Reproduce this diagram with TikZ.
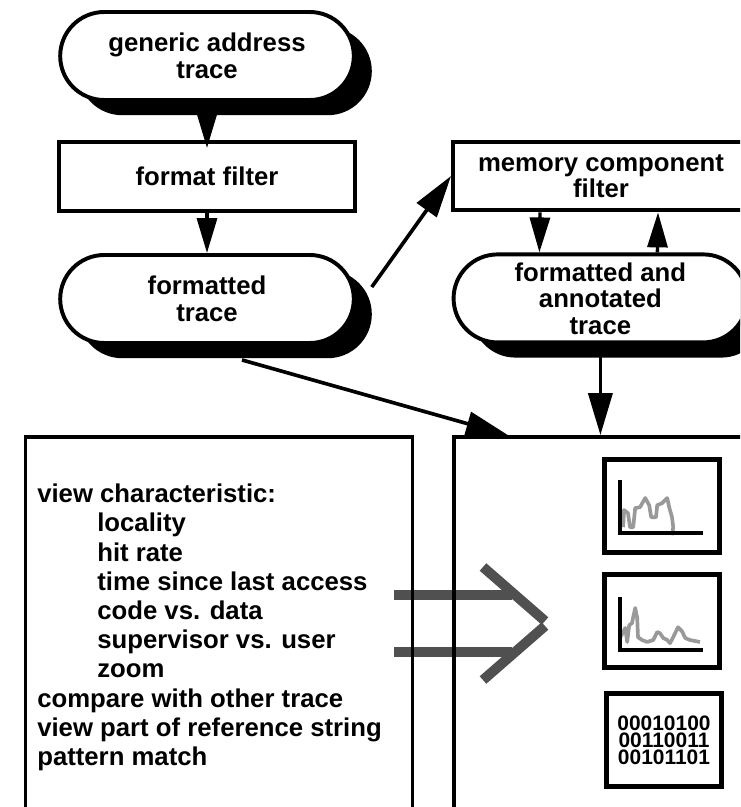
\documentclass[tikz,border=0pt]{standalone}
\usepackage{fontspec}
\setmainfont{Liberation Sans}
\usetikzlibrary{arrows.meta, shapes.misc, shadows, positioning}

\definecolor{ArrowGray}{RGB}{80,80,80}
\definecolor{PlotGray}{RGB}{153,153,153}

\tikzset{
  blockfont/.style={font=\fontsize{18.3}{18.8}\selectfont\bfseries},
  terminal/.style={rounded rectangle, draw, line width=2.8pt, fill=white,
    minimum width=7.575cm, minimum height=2.2cm, align=center, blockfont,
    drop shadow={opacity=1, fill=black, shadow xshift=0.45cm, shadow yshift=-0.38cm}},
  filterbox/.style={rectangle, draw, line width=2.8pt, fill=white,
    minimum width=7.4cm, minimum height=1.72cm, align=center, blockfont},
  panel/.style={rectangle, draw, line width=2.8pt,
    minimum width=9.675cm, minimum height=9.825cm},
  chartbox/.style={rectangle, draw, line width=3.4pt,
    minimum width=2.875cm, minimum height=2.325cm},
  flow/.style={line width=2.4pt, -{Triangle[length=0.875cm, width=0.5cm]}},
  longflow/.style={line width=2.6pt, -{Triangle[length=1.05cm, width=0.6cm]}},
  axes/.style={line width=2.5pt},
  plotline/.style={PlotGray, line width=2.6pt, line join=round},
  bigarrow/.style={ArrowGray, line width=7.1pt},
}

\begin{document}
\begin{tikzpicture}
  \useasboundingbox (0,0) rectangle (18.5,-20.175);
  \clip (0,0) rectangle (18.5,-20.175);
  \fill[white] (0,0) rectangle (18.5,-20.175);

  % trace pipeline
  \node[terminal] (gen) at (5.175,-1.4) {generic address\\trace};
  \node[filterbox] (fmt) at (5.175,-4.41) {format filter};
  \node[terminal] (ftrace) at (5.175,-7.475) {formatted\\trace};
  \node[filterbox] (memf) at (15.025,-4.4) {memory component\\filter};
  \node[terminal] (annot) at (15.01,-7.46) {formatted and\\annotated\\trace};

  % operations imply views
  \draw[bigarrow] (9.85,-14.875) -- (12.8,-14.875);
  \draw[bigarrow] (9.85,-16.3) -- (12.8,-16.3);
  \draw[bigarrow] (12.075,-14.175) -- (13.625,-15.525);
  \draw[bigarrow] (13.625,-15.65) -- (12.075,-17.0);

  \node[panel] (ops) at (5.475,-15.84) {};
  \node[panel, minimum width=8.65cm] (views) at (15.675,-15.84) {};

  \node[anchor=north west, align=left, inner sep=0pt,
        font=\fontsize{18.3}{20.8}\selectfont\bfseries] (oplist) at (0.925,-12.09)
    {view characteristic:\\
     \hspace*{1.5cm}locality\\
     \hspace*{1.5cm}hit rate\\
     \hspace*{1.5cm}time since last access\\
     \hspace*{1.5cm}code vs. data\\
     \hspace*{1.5cm}supervisor vs. user\\
     \hspace*{1.5cm}zoom\\
     compare with other trace\\
     view part of reference string\\
     pattern match};

  % connectors
  \draw[flow] (gen.south) -- ([yshift=-0.2cm]fmt.north);
  \draw[flow] (fmt.south) -- (ftrace.north);
  \draw[longflow] ([xshift=0.4cm,yshift=0.3cm]ftrace.east) -- (memf.west);
  \draw[flow] ([xshift=-1.525cm]memf.south) -- ([xshift=-1.525cm]annot.north);
  \draw[flow] ([xshift=1.425cm]annot.north) -- ([xshift=1.425cm]memf.south);
  \draw[longflow] ([xshift=0.875cm,yshift=-0.375cm]ftrace.south) -- ([xshift=1.4cm]views.north west);
  \draw[longflow] (annot.south) -- (annot.south |- views.north);

  % small views
  \node[chartbox] (c1) at (16.55,-12.65) {};
  \node[chartbox] (c2) at (16.55,-15.525) {};
  \node[chartbox, align=center, font=\fontsize{14.9}{12.2}\selectfont\bfseries] (c3) at (16.6,-18.5)
    {00010100\\00110011\\00101101};

  \draw[plotline] (15.58,-13.18) -- (15.6,-12.75) -- (15.7,-12.83) -- (15.75,-13.18)
    -- (15.83,-13.18) -- (15.88,-12.7) -- (16.0,-12.68) -- (16.13,-12.45) -- (16.23,-12.63)
    -- (16.28,-12.93) -- (16.4,-12.93) -- (16.43,-12.63) -- (16.55,-12.58) -- (16.68,-12.45)
    -- (16.73,-12.68) -- (16.8,-12.93) -- (16.83,-13.18) -- (16.8,-13.38);
  \draw[axes] (15.5,-12.0) |- (17.575,-13.325);

  \draw[plotline] (15.5,-15.95) -- (15.58,-15.8) -- (15.63,-15.7) -- (15.68,-16.05)
    -- (15.73,-15.63) -- (15.8,-15.58) -- (15.83,-15.43) -- (15.88,-15.2) -- (15.93,-15.45)
    -- (15.95,-15.93) -- (16.05,-16.0) -- (16.18,-16.05) -- (16.33,-16.0) -- (16.43,-15.8)
    -- (16.5,-15.83) -- (16.58,-15.95) -- (16.68,-16.0) -- (16.75,-16.08) -- (16.83,-15.93)
    -- (16.95,-15.68) -- (17.05,-15.78) -- (17.13,-15.95) -- (17.25,-16.0) -- (17.5,-16.05);
  \draw[axes] (15.5,-14.925) |- (17.575,-16.25);
\end{tikzpicture}
\end{document}
